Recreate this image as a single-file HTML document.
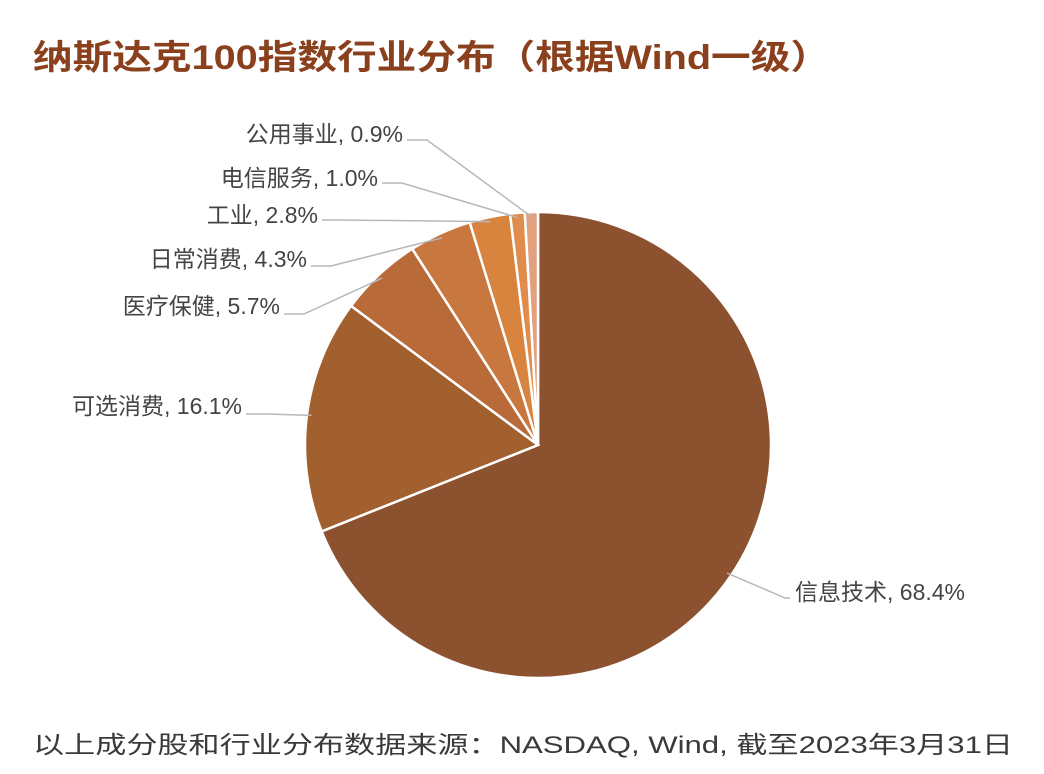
<!DOCTYPE html>
<html><head><meta charset="utf-8">
<style>
html,body{margin:0;padding:0;background:#fff;}
svg{display:block;font-family:"Liberation Sans","Noto Sans CJK SC",sans-serif;}
</style></head>
<body>
<svg id="chart" width="1044" height="774" viewBox="0 0 1044 774" xmlns="http://www.w3.org/2000/svg">
<text x="33" y="69" font-size="34" font-weight="bold" fill="#8a401d" textLength="797" lengthAdjust="spacingAndGlyphs">纳斯达克100指数行业分布（根据Wind一级）</text>
<g id="slices"></g>
<g id="labels"></g>
<text x="33" y="753" font-size="24" fill="#3a3a3a" textLength="980" lengthAdjust="spacingAndGlyphs">以上成分股和行业分布数据来源：NASDAQ, Wind, 截至2023年3月31日</text>
</svg>
<script>
const categories = ["信息技术","可选消费","医疗保健","日常消费","工业","电信服务","公用事业"];
const values = [68.4,16.1,5.7,4.3,2.8,1.0,0.9];
const colors = ["#8c5230","#a2602f","#b86a39","#c8773e","#d8843f","#e08c4c","#e3a07f"];
const labelPos = [[795,600,"start"],[242,414,"end"],[280,314,"end"],[307,267,"end"],[318,223,"end"],[378,186,"end"],[403,142,"end"]];
const lineEnd = [[790,598],[246,414],[284,314],[311,266],[322,220],[382,183],[407,140]];
const cx=538, cy=445, r=233;
const total = values.reduce((a,b)=>a+b,0);
const ns="http://www.w3.org/2000/svg";
const gS=document.getElementById('slices'), gL=document.getElementById('labels');
function pt(a,rr){return [cx+rr*Math.sin(a), cy-rr*Math.cos(a)];}
let acc=0;
values.forEach((v,i)=>{
  const a0=acc/total*2*Math.PI; acc+=v; const a1=acc/total*2*Math.PI;
  const p0=pt(a0,r), p1=pt(a1,r);
  const large=(a1-a0)>Math.PI?1:0;
  const path=document.createElementNS(ns,'path');
  path.setAttribute('d',`M${cx},${cy}L${p0[0]},${p0[1]}A${r},${r} 0 ${large} 1 ${p1[0]},${p1[1]}Z`);
  path.setAttribute('fill',colors[i]);
  path.setAttribute('stroke','#fff');
  path.setAttribute('stroke-width','2.5');
  
  
  gS.appendChild(path);
  const am=(a0+a1)/2, pm=pt(am,r*0.98);
  const le=lineEnd[i];
  const ln=document.createElementNS(ns,'polyline');
  ln.setAttribute('points',`${pm[0]},${pm[1]} ${le[0]+(i===0?-5:20)},${le[1]} ${le[0]},${le[1]}`);
  ln.setAttribute('fill','none');
  ln.setAttribute('stroke','#b4b8bc');
  ln.setAttribute('stroke-width','1.5');
  
  
  gL.appendChild(ln);
  const t=document.createElementNS(ns,'text');
  const lp=labelPos[i];
  t.setAttribute('x',lp[0]); t.setAttribute('y',lp[1]);
  t.setAttribute('text-anchor',lp[2]);
  t.setAttribute('font-size','23');
  t.setAttribute('fill','#444');
  
  
  t.textContent=categories[i]+", "+v.toFixed(1)+"%";
  gL.appendChild(t);
});
</script>
</body></html>
